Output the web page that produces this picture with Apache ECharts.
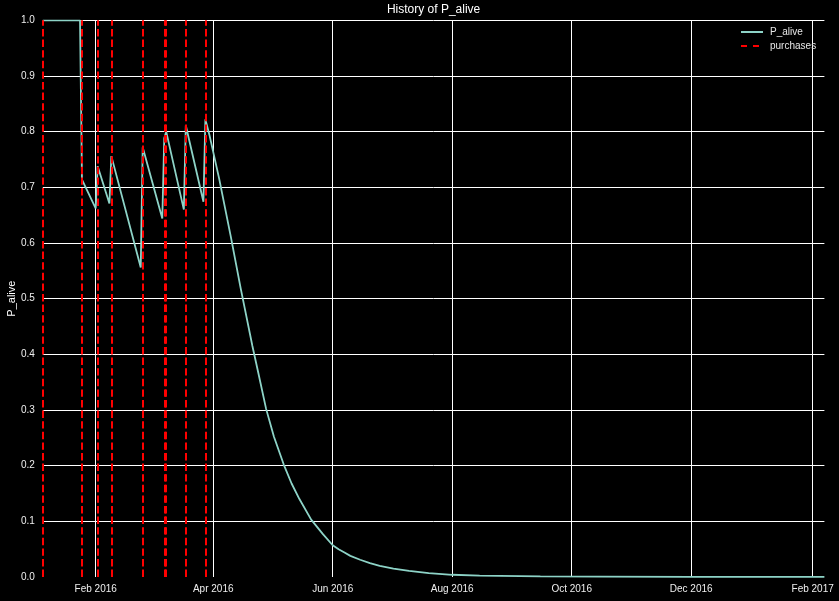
<!DOCTYPE html>
<html>
<head>
<meta charset="utf-8">
<script src="https://cdn.jsdelivr.net/npm/echarts@6/dist/echarts.min.js"></script>
<style>
html,body{margin:0;padding:0;background:#000;}
#chart{width:839px;height:601px;}
</style>
</head>
<body>
<div id="chart"></div>
<script>
// ---- data ----
var aliveDates = ['2016-01-05','2016-01-24','2016-01-25','2016-02-01','2016-02-02','2016-02-08','2016-02-09',
  '2016-02-24','2016-02-25','2016-03-06','2016-03-07','2016-03-08','2016-03-17','2016-03-18','2016-03-27',
  '2016-03-28','2016-03-30','2016-04-04','2016-04-10','2016-04-15','2016-04-21','2016-04-24','2016-04-28',
  '2016-05-02','2016-05-07','2016-05-11','2016-05-15','2016-05-21','2016-05-27','2016-06-01','2016-06-04',
  '2016-06-07','2016-06-10','2016-06-15','2016-06-20','2016-06-25','2016-07-02','2016-07-10','2016-07-20',
  '2016-08-01','2016-08-15','2016-09-15','2016-10-15','2016-12-01','2017-02-07'];
var aliveValues = [1.0,1.0,0.714,0.662,0.738,0.671,0.756,
  0.556,0.772,0.644,0.788,0.800,0.660,0.811,0.674,
  0.822,0.795,0.716,0.611,0.519,0.415,0.367,0.302,
  0.252,0.202,0.168,0.140,0.103,0.077,0.057,0.050,
  0.044,0.038,0.031,0.025,0.020,0.015,0.011,0.007,
  0.004,0.0025,0.0013,0.0007,0.0003,0.0001];
var purchaseDates = ['2016-01-05','2016-01-25','2016-02-02','2016-02-09','2016-02-25',
  '2016-03-07','2016-03-08','2016-03-18','2016-03-28'];
var xTickDates = ['2016-02-01','2016-04-01','2016-06-01','2016-08-01','2016-10-01','2016-12-01','2017-02-01'];
var xMinDate = '2016-01-05';
var xMaxDate = '2017-02-07';
var monthNames = ['Jan','Feb','Mar','Apr','May','Jun','Jul','Aug','Sep','Oct','Nov','Dec'];

function ts(s){ var p = s.split('-'); return Date.UTC(+p[0], +p[1]-1, +p[2]); }

var FONT = "'Liberation Sans', Arial, sans-serif";
var aliveData = aliveDates.map(function(d,i){ return [ts(d), aliveValues[i]]; });
var tickTs = xTickDates.map(ts);

var chart = echarts.init(document.getElementById('chart'), null, {renderer:'canvas'});
chart.setOption({
  backgroundColor:'#000000',
  animation:false,
  textStyle:{fontFamily:FONT},
  title:{
    text:'History of P_alive',
    left:433.6, top:4, padding:0, textAlign:'center',
    textStyle:{color:'#ffffff', fontSize:12, fontWeight:'normal', fontFamily:FONT}
  },
  legend:{
    orient:'vertical', left:740, top:27, padding:0,
    itemWidth:22, itemHeight:10, itemGap:4,
    itemStyle:{color:'rgba(0,0,0,0)', borderColor:'rgba(0,0,0,0)', borderWidth:0},
    textStyle:{color:'#e6e6e6', fontSize:10, fontFamily:FONT, padding:[0,0,0,2]},
    data:[
      {name:'P_alive'},
      {name:'purchases', lineStyle:{type:[6,6]}}
    ]
  },
  grid:{left:42.8, right:14.6, top:20.3, bottom:24, containLabel:false, outerBoundsMode:'none'},
  xAxis:{
    type:'value', min:ts(xMinDate), max:ts(xMaxDate),
    axisLine:{show:false},
    axisTick:{show:false, customValues:tickTs},
    axisLabel:{
      customValues:tickTs, color:'#eeeeee', fontSize:10, margin:7, fontFamily:FONT,
      formatter:function(v){ var d=new Date(v); return monthNames[d.getUTCMonth()]+' '+d.getUTCFullYear(); }
    },
    splitLine:{show:true, lineStyle:{color:'#ffffff', width:1}}
  },
  yAxis:{
    type:'value', min:0, max:1, interval:0.1,
    name:'P_alive', nameLocation:'middle', nameGap:25, nameMoveOverlap:false,
    nameTextStyle:{color:'#ffffff', fontSize:11, fontFamily:FONT},
    axisLine:{show:false}, axisTick:{show:false},
    axisLabel:{color:'#eeeeee', fontSize:10, margin:8, fontFamily:FONT,
      formatter:function(v){ return v.toFixed(1); }},
    splitLine:{show:true, showMinLine:false, lineStyle:{color:'#ffffff', width:1}}
  },
  series:[
    {
      name:'P_alive', type:'line', data:aliveData, symbol:'none', showSymbol:false,
      lineStyle:{color:'#8dd3c7', width:1.8}, itemStyle:{color:'#8dd3c7'}, z:3
    },
    {
      name:'purchases', type:'line', data:[], symbol:'none', showSymbol:false,
      lineStyle:{color:'#ff0000', width:2, type:[7.4,3.2]}, itemStyle:{color:'#ff0000'}, z:4,
      markLine:{
        silent:true, symbol:['none','none'], label:{show:false},
        lineStyle:{color:'#ff0000', width:2, type:[7.4,3.2]},
        emphasis:{disabled:true},
        data:purchaseDates.map(function(d){ return {xAxis:ts(d)}; })
      }
    }
  ]
});
</script>
</body>
</html>
